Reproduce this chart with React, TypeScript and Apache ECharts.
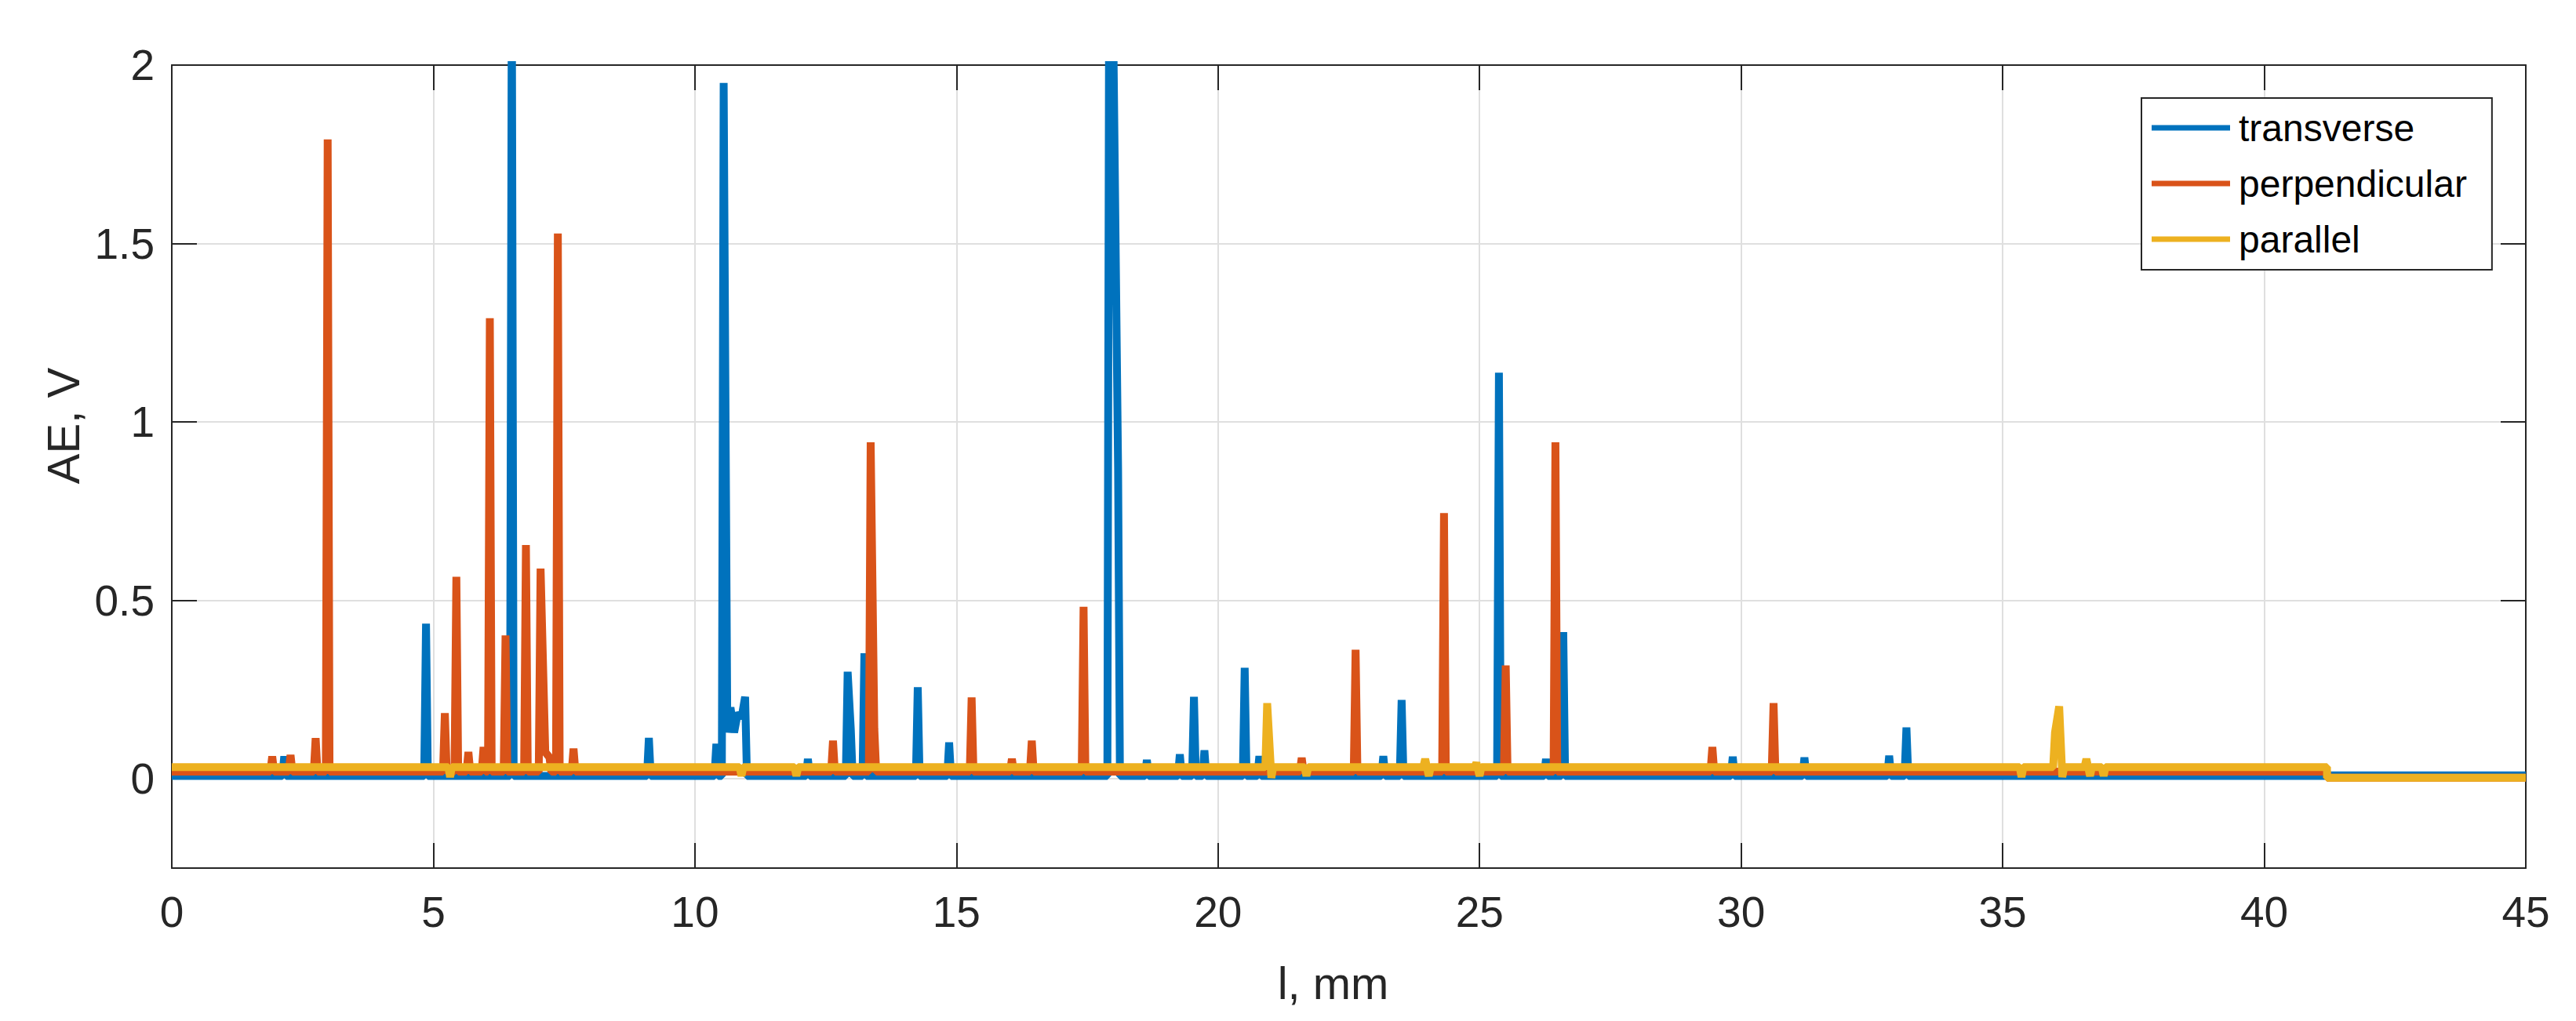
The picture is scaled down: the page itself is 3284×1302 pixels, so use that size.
import React, { useEffect, useRef } from "react";
import * as echarts from "echarts";

// ---------- data ----------
const seriesNames = ["transverse", "perpendicular", "parallel"];
const seriesColors = ["#0072BD", "#D95319", "#EDB120"];

const xTicks = [0, 5, 10, 15, 20, 25, 30, 35, 40, 45];
const yTicks = [0, 0.5, 1, 1.5, 2];

// noise-floor level of each signal (V), before and after the end of the record at 41.2 mm
const floorEndX = 41.2;
const transverseFloor = 0.008;
const perpendicularFloor = 0.02;
const parallelFloor = 0.033;
const transverseFloorAfter = 0.01;
const perpendicularFloorAfter = 0.003;
const parallelFloorAfter = 0.003;

// AE bursts [l (mm), AE (V)]
const transverseSpikes: [number, number][] = [
  [2.15, 0.063], [4.86, 0.435], [6.5, 2.25], [9.12, 0.115],
  [10.41, 0.098], [10.55, 1.95], [10.62, 0.13], [10.68, 0.2], [10.75, 0.13],
  [10.82, 0.185], [10.89, 0.17], [10.96, 0.23],
  [12.16, 0.056], [12.92, 0.3], [12.98, 0.14], [13.24, 0.352],
  [14.26, 0.257], [14.86, 0.102],
  [17.92, 2.3], [17.99, 2.2], [18.09, 0.866],
  [18.64, 0.053], [19.27, 0.069], [19.54, 0.23], [19.74, 0.08],
  [20.51, 0.311], [20.79, 0.064], [23.16, 0.064], [23.51, 0.221],
  [25.37, 1.138], [26.27, 0.056], [26.6, 0.411],
  [29.84, 0.062], [31.21, 0.06], [32.83, 0.065], [33.16, 0.144],
];

const perpendicularSpikes: [number, number][] = [
  [1.92, 0.063], [2.27, 0.067], [2.75, 0.114], [2.98, 1.792],
  [5.22, 0.184], [5.44, 0.566], [5.67, 0.075], [5.96, 0.089], [6.08, 1.291],
  [6.38, 0.402], [6.77, 0.655], [7.05, 0.589], [7.14, 0.075], [7.22, 0.06],
  [7.38, 1.528], [7.68, 0.085],
  [12.64, 0.107], [13.36, 0.943], [13.43, 0.14],
  [15.29, 0.228], [16.06, 0.056], [16.44, 0.107], [17.43, 0.482],
  [21.6, 0.059], [22.63, 0.362], [24.32, 0.745], [25.5, 0.318],
  [26.45, 0.943], [29.45, 0.089], [30.62, 0.212],
];

const parallelSpikes: [number, number][] = [
  [5.32, 0.005], [10.89, 0.008], [11.94, 0.008],
  [20.94, 0.212], [21.02, 0.003], [21.69, 0.008],
  [23.96, 0.056], [24.03, 0.008], [24.94, 0.045], [25.0, 0.008],
  [35.36, 0.005], [36.0, 0.13], [36.08, 0.203], [36.14, 0.005],
  [36.6, 0.056], [36.67, 0.008], [36.93, 0.008],
];

const X_MAX = 45;
const Y_MIN = -0.25;
const Y_MAX = 2;

// ---------- helpers ----------
const HALF = 0.035;
const MERGE = 0.11;

function buildLine(spikes: [number, number][], floor: number, floorAfter: number) {
  const pts: [number, number][] = [[0, floor]];
  spikes.forEach(([x, y], i) => {
    const prev = spikes[i - 1];
    const next = spikes[i + 1];
    if (!prev || x - prev[0] > MERGE) pts.push([x - HALF, floor]);
    pts.push([x, y]);
    if (!next || next[0] - x > MERGE) pts.push([x + HALF, floor]);
  });
  pts.push([floorEndX, floor], [floorEndX, floorAfter], [X_MAX, floorAfter]);
  return pts;
}

const FONT = "Liberation Sans, Arial, Helvetica, sans-serif";
const AXIS_COLOR = "#262626";

export default function App() {
  const ref = useRef<HTMLDivElement>(null);

  useEffect(() => {
    document.body.style.margin = "0";
    if (!ref.current) return;
    const chart = echarts.init(ref.current, null, { renderer: "svg" });

    const lines = [
      buildLine(transverseSpikes, transverseFloor, transverseFloorAfter),
      buildLine(perpendicularSpikes, perpendicularFloor, perpendicularFloorAfter),
      buildLine(parallelSpikes, parallelFloor, parallelFloorAfter),
    ];

    const tickStyle = { inside: true, length: 32, lineStyle: { color: AXIS_COLOR, width: 2 } };
    const lineStyleAxis = { show: true, onZero: false, lineStyle: { color: AXIS_COLOR, width: 2 } };
    const gridStyle = { show: true, lineStyle: { color: "#dfdfdf", width: 2 } };

    chart.setOption({
      animation: false,
      backgroundColor: "#ffffff",
      textStyle: { fontFamily: FONT },
      grid: { left: 219, right: 64, top: 83, bottom: 195, containLabel: false },
      legend: {
        data: seriesNames,
        orient: "vertical",
        left: 2730,
        top: 125,
        padding: [14, 32, 15, 13],
        itemWidth: 100,
        itemHeight: 7,
        itemGap: 23,
        icon: "rect",
        borderColor: AXIS_COLOR,
        borderWidth: 2,
        backgroundColor: "#ffffff",
        z: 10,
        textStyle: { fontSize: 48, color: "#000000", fontFamily: FONT, padding: [0, 0, 0, 6] },
      },
      xAxis: [
        {
          type: "value",
          position: "bottom",
          min: xTicks[0],
          max: xTicks[xTicks.length - 1],
          interval: 5,
          axisLine: lineStyleAxis,
          axisTick: tickStyle,
          axisLabel: { fontSize: 55, color: AXIS_COLOR, margin: 28, fontFamily: FONT },
          splitLine: gridStyle,
          name: "l, mm",
          nameLocation: "middle",
          nameGap: 117,
          nameTextStyle: { fontSize: 58, color: AXIS_COLOR, fontFamily: FONT, padding: [0, 40, 0, 0] },
        },
        {
          type: "value",
          position: "top",
          min: xTicks[0],
          max: xTicks[xTicks.length - 1],
          interval: 5,
          axisLine: lineStyleAxis,
          axisTick: tickStyle,
          axisLabel: { show: false },
          splitLine: { show: false },
        },
      ],
      yAxis: [
        {
          type: "value",
          position: "left",
          min: Y_MIN,
          max: Y_MAX,
          axisLine: lineStyleAxis,
          axisTick: { ...tickStyle, customValues: yTicks },
          axisLabel: { customValues: yTicks, fontSize: 55, color: AXIS_COLOR, margin: 22, fontFamily: FONT },
          splitLine: gridStyle,
          name: "AE, V",
          nameLocation: "middle",
          nameGap: 107,
          nameTextStyle: { fontSize: 58, color: AXIS_COLOR, fontFamily: FONT, padding: [0, 0, 0, 104] },
        },
        {
          type: "value",
          position: "right",
          min: Y_MIN,
          max: Y_MAX,
          axisLine: lineStyleAxis,
          axisTick: { ...tickStyle, customValues: yTicks },
          axisLabel: { show: false, customValues: yTicks },
          splitLine: { show: false },
        },
      ],
      series: seriesNames.map((name, i) => ({
        name,
        type: "line",
        data: lines[i],
        showSymbol: false,
        symbol: "none",
        clip: true,
        color: seriesColors[i],
        lineStyle: { color: seriesColors[i], width: 10, join: "bevel", cap: "butt" },
        z: 2 + i,
      })),
    });

    return () => chart.dispose();
  }, []);

  return <div ref={ref} style={{ width: 3284, height: 1302 }} />;
}
